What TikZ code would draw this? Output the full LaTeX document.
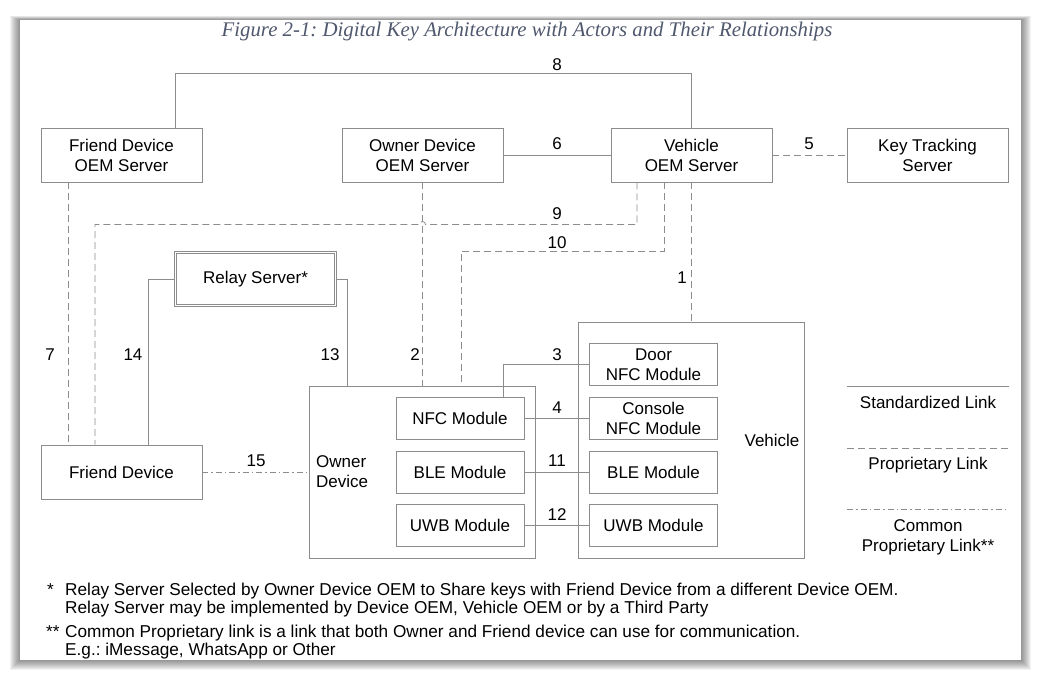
\documentclass[tikz,border=0pt]{standalone}
\usepackage{fontspec}
\setmainfont{Liberation Sans}
\newfontfamily\titlefont{Liberation Serif}
\usetikzlibrary{calc}

\definecolor{linegray}{RGB}{140,140,140}
\definecolor{titleblue}{RGB}{80,88,110}

\begin{document}
\frenchspacing
\begin{tikzpicture}[
    x=1pt, y=-1pt,
    font=\fontsize{17}{20}\selectfont,
    box/.style={draw=linegray, line width=0.8pt, align=center, minimum width=161pt, minimum height=54pt, inner sep=0pt},
    module/.style={draw=linegray, line width=0.8pt, align=center, minimum width=128pt, minimum height=42pt, inner sep=0pt},
    frame/.style={draw=linegray, line width=0.8pt, minimum width=226pt, inner sep=0pt},
    relaybox/.style={draw=linegray, double=white, double distance=1.6pt, line width=0.6pt, minimum width=160pt, minimum height=53pt, inner sep=0pt},
    stdlink/.style={draw=linegray, line width=0.8pt},
    proplink/.style={draw=linegray, line width=0.8pt, dash pattern=on 7pt off 4pt},
    commonlink/.style={draw=linegray, line width=0.8pt, dash pattern=on 6pt off 3pt on 1.5pt off 3pt},
    linklabel/.style={inner sep=0pt},
    note/.style={anchor=base west, inner sep=0pt, font=\fontsize{17.2}{20}\selectfont}
]
    \useasboundingbox (0,0) rectangle (1041,678);

    % Panel with shadow
    \foreach \s in {1,...,10} {
        \fill[black, opacity=0.05] (20-\s,20-0.4*\s) rectangle (1021+\s,660+\s);
    }
    \fill[white] (20,20) rectangle (1021,660);

    % Title
    \node[text=titleblue, font=\titlefont\itshape\fontsize{20.8}{24}\selectfont] (title) at (527,32) {Figure 2-1: Digital Key Architecture with Actors and Their Relationships};

    % Servers
    \node[box] (fos) at (121.5,155) {Friend Device\\OEM Server};
    \node[box] (oos) at (422.5,155) {Owner Device\\OEM Server};
    \node[box] (vos) at (691.5,155) {Vehicle\\OEM Server};
    \node[box] (kts) at (927.5,155) {Key Tracking\\Server};
    \node[relaybox] (relay) at (255.5,279) {Relay Server*};

    % Devices
    \node[box] (fd) at (121.5,472) {Friend Device};
    \node[frame, minimum height=172pt] (od) at (422,472) {};
    \node[frame, minimum height=236pt] (veh) at (691,440) {};
    \node[anchor=west, align=left, inner sep=0pt] (odlabel) at (316,472) {Owner\\Device};
    \node[inner sep=0pt] (vehlabel) at (772,440) {Vehicle};

    % Modules
    \node[module] (onfc) at (460,418) {NFC Module};
    \node[module] (oble) at (460,472) {BLE Module};
    \node[module] (ouwb) at (460,525.5) {UWB Module};
    \node[module] (vdoor) at (653.5,364.5) {Door\\NFC Module};
    \node[module] (vcons) at (653.5,418) {Console\\NFC Module};
    \node[module] (vble) at (653.5,472) {BLE Module};
    \node[module] (vuwb) at (653.5,525.5) {UWB Module};

    % Links
    \coordinate (hop9) at (oos.south |- 0,224.5);
    \draw[stdlink] ([xshift=53.5pt]fos.north) |- ([yshift=54pt]vos.north) -- (vos.north);
    \draw[stdlink] (oos.east) -- (vos.west);
    \draw[proplink] (vos.east) -- (kts.west);
    \draw[proplink] ([xshift=-53.5pt]fos.south) -- ([xshift=-53.5pt]fd.north);
    \draw[proplink] ([xshift=-54.5pt]vos.south) |- ([xshift=3pt]hop9) arc[start angle=0, end angle=180, radius=3pt] -| ([xshift=-26.5pt]fd.north);
    \draw[proplink] ([xshift=-27.5pt]vos.south) -- ++(0,69) -| ([xshift=39pt]od.north);
    \draw[proplink] (vos.south) -- (vos.south |- veh.north);
    \draw[proplink] (oos.south) -- (oos.south |- od.north);
    \draw[stdlink] (relay.east) -| ([xshift=-75pt]od.north);
    \draw[stdlink] (relay.west) -| ([xshift=26.5pt]fd.north);
    \draw[commonlink] (fd.east) -- (od.west);
    \draw[stdlink] ([xshift=43pt]onfc.north) |- (vdoor.west);
    \draw[stdlink] (onfc.east) -- (vcons.west);
    \draw[stdlink] (oble.east) -- (vble.west);
    \draw[stdlink] (ouwb.east) -- (vuwb.west);

    % Link numbers
    \node[linklabel] (l8) at (557,65) {8};
    \node[linklabel] (l6) at (557,144) {6};
    \node[linklabel] (l5) at (809,144) {5};
    \node[linklabel] (l9) at (557,214) {9};
    \node[linklabel] (l10) at (557,243) {10};
    \node[linklabel] (l1) at (682,278) {1};
    \node[linklabel] (l7) at (50,355) {7};
    \node[linklabel] (l14) at (133,355) {14};
    \node[linklabel] (l13) at (330,355) {13};
    \node[linklabel] (l2) at (415,355) {2};
    \node[linklabel] (l3) at (557,355) {3};
    \node[linklabel] (l4) at (557,408) {4};
    \node[linklabel] (l11) at (557,461) {11};
    \node[linklabel] (l12) at (557,515) {12};
    \node[linklabel] (l15) at (256,461) {15};

    % Legend
    \coordinate (std1) at (847,386);
    \coordinate (std2) at (1009,386);
    \coordinate (prop1) at (847,448);
    \coordinate (prop2) at (1009,448);
    \coordinate (com1) at (847,509);
    \coordinate (com2) at (1009,509);
    \draw[stdlink] (std1) -- (std2);
    \draw[proplink] (prop1) -- (prop2);
    \draw[commonlink] (com1) -- (com2);
    \node[inner sep=0pt] (stdtext) at (928,402) {Standardized Link};
    \node[inner sep=0pt] (proptext) at (928,465) {Proprietary Link};
    \node[inner sep=0pt, align=center] (comtext) at (928,537) {Common\\Proprietary Link**};

    % Notes
    \node[note] (star1) at (47,595) {*};
    \node[note] (note1) at (65,595) {Relay Server Selected by Owner Device OEM to Share keys with Friend Device from a different Device OEM.};
    \node[note] (note2) at (65,613) {Relay Server may be implemented by Device OEM, Vehicle OEM or by a Third Party};
    \node[note] (star2) at (46,637) {**};
    \node[note] (note3) at (65,637) {Common Proprietary link is a link that both Owner and Friend device can use for communication.};
    \node[note] (note4) at (65,655) {E.g.: iMessage, WhatsApp or Other};

\end{tikzpicture}
\end{document}
